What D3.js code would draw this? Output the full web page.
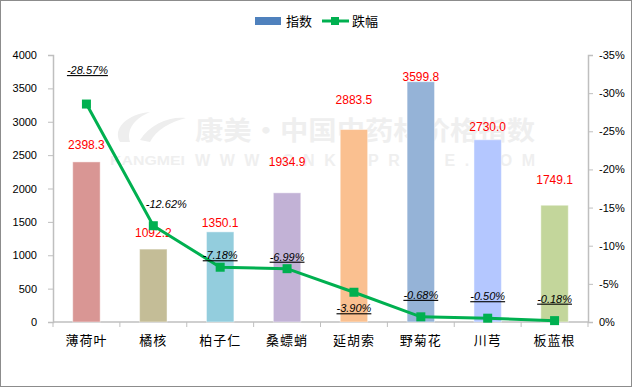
<!DOCTYPE html>
<html>
<head>
<meta charset="utf-8">
<script src="https://cdn.jsdelivr.net/npm/d3@7"></script>
<style>
  body { margin: 0; background: #fff; }
  svg { display: block; }
  text { font-family: "Liberation Sans", Arial, sans-serif; }
  .cjk { font-family: "Noto Sans CJK SC", sans-serif; }
</style>
</head>
<body>
<div id="chart"></div>
<script>
"use strict";

const categories = ["薄荷叶", "橘核", "柏子仁", "桑螵蛸", "延胡索", "野菊花", "川芎", "板蓝根"];
const indexValues = [2398.3, 1092.2, 1350.1, 1934.9, 2883.5, 3599.8, 2730.0, 1749.1];
const changeValues = [-0.2857, -0.1262, -0.0718, -0.0699, -0.0390, -0.0068, -0.0050, -0.0018];
const leftTicks = [0, 500, 1000, 1500, 2000, 2500, 3000, 3500, 4000];
const rightTicks = [0, -0.05, -0.10, -0.15, -0.20, -0.25, -0.30, -0.35];

// hand placed label nudges (like the excel original)
const valueLabelLift = [17, 16, 9, 31, 30, 5, 13, 25];
const pctLabelPos = [[1, 34], [13, 22], [0, 12], [0, 12], [0, -16], [0, 22], [0, 22], [0, 22]];
const pctUnderline = [true, false, true, true, true, true, true, true];
const barColors = ["#D99694", "#C4BD97", "#93CDDD", "#C2B2D6", "#FAC090", "#95B3D7", "#B4C7FF", "#C3D69B"];

const W = 633, H = 388;
const plotL = 53, plotR = 588, plotT = 55, plotB = 322;

const svg = d3.select("#chart").append("svg")
    .attr("width", W)
    .attr("height", H);

svg.append("rect")
    .attr("x", 0.5).attr("y", 0.5)
    .attr("width", W - 2).attr("height", H - 2)
    .attr("fill", "#fff")
    .attr("stroke", "#8c8c8c");

// watermark
const wm = svg.append("g").attr("fill", "#efefef").attr("font-weight", "bold");
wm.append("path")
    .attr("d", "M120,142 C112,128 128,114 150,112 C136,118 126,128 130,142 Z M140,140 C150,124 170,116 186,118 C170,122 156,130 150,142 Z")
    .attr("fill", "#eeeeee");
wm.append("text").attr("class", "cjk")
    .attr("x", 195).attr("y", 140)
    .attr("font-size", 26)
    .attr("textLength", 340).attr("lengthAdjust", "spacingAndGlyphs")
    .text("康美·中国中药材价格指数");
wm.append("text")
    .attr("x", 110).attr("y", 165)
    .attr("font-size", 13)
    .attr("textLength", 75).attr("lengthAdjust", "spacingAndGlyphs")
    .text("KANGMEI");
wm.append("text")
    .attr("x", 195).attr("y", 166)
    .attr("font-size", 16)
    .attr("textLength", 340).attr("lengthAdjust", "spacing")
    .text("WWW.CNKMPRICE.COM");

const x = d3.scaleBand().domain(categories).range([plotL, plotR]);
const yL = d3.scaleLinear().domain([0, 4000]).range([plotB, plotT]);
const yR = d3.scaleLinear().domain([0, -0.35]).range([plotB, plotT]);

const axisColor = "#bfbfbf";

// left axis
const gL = svg.append("g")
    .attr("transform", "translate(" + plotL + ",0)")
    .call(d3.axisLeft(yL).tickValues(leftTicks).tickSize(5).tickPadding(11).tickFormat(d3.format("d")));
gL.select(".domain").attr("stroke", axisColor).attr("stroke-width", 1.5);
gL.selectAll(".tick line").attr("stroke", axisColor);
gL.selectAll("text").attr("font-size", 11).attr("fill", "#000")
    .attr("font-family", "Liberation Sans, Arial, sans-serif");

// right axis
const gR = svg.append("g")
    .attr("transform", "translate(" + plotR + ",0)")
    .call(d3.axisRight(yR).tickValues(rightTicks).tickSize(5).tickPadding(6)
        .tickFormat(d => d === 0 ? "0%" : "-" + Math.round(-d * 100) + "%"));
gR.select(".domain").attr("stroke", axisColor).attr("stroke-width", 1.5);
gR.selectAll(".tick line").attr("stroke", axisColor);
gR.selectAll("text").attr("font-size", 11).attr("fill", "#000")
    .attr("font-family", "Liberation Sans, Arial, sans-serif");

// x axis
svg.append("line")
    .attr("x1", plotL).attr("x2", plotR)
    .attr("y1", plotB).attr("y2", plotB)
    .attr("stroke", axisColor).attr("stroke-width", 1.5);
svg.selectAll(".xtick")
    .data(d3.range(categories.length + 1))
    .enter().append("line")
    .attr("x1", i => plotL + i * x.step())
    .attr("x2", i => plotL + i * x.step())
    .attr("y1", plotB).attr("y2", plotB + 5)
    .attr("stroke", axisColor);
svg.selectAll(".xlab")
    .data(categories)
    .enter().append("text")
    .attr("class", "cjk")
    .attr("x", d => x(d) + x.bandwidth() / 2)
    .attr("y", 345)
    .attr("text-anchor", "middle")
    .attr("font-size", 13)
    .attr("letter-spacing", 1)
    .attr("fill", "#000")
    .text(d => d);

// bars
const bw = x.bandwidth() * 0.41;
svg.selectAll(".bar")
    .data(indexValues)
    .enter().append("rect")
    .attr("x", (d, i) => x(categories[i]) + x.bandwidth() / 2 - bw / 2)
    .attr("y", d => yL(d))
    .attr("width", bw)
    .attr("height", d => plotB - yL(d))
    .attr("fill", (d, i) => barColors[i])
    .attr("stroke", "rgba(255,255,255,0.45)")
    .attr("stroke-width", 1);

// value labels
svg.selectAll(".vlab")
    .data(indexValues)
    .enter().append("text")
    .attr("x", (d, i) => x(categories[i]) + x.bandwidth() / 2)
    .attr("y", (d, i) => yL(d) - valueLabelLift[i] + 4)
    .attr("text-anchor", "middle")
    .attr("font-size", 12)
    .attr("fill", "#ff0000")
    .text(d => d.toFixed(1));

// line
const cx = (d, i) => x(categories[i]) + x.bandwidth() / 2;
const line = d3.line().x(cx).y(d => yR(d));
svg.append("path")
    .datum(changeValues)
    .attr("d", line)
    .attr("fill", "none")
    .attr("stroke", "#00B050")
    .attr("stroke-width", 3);
svg.selectAll(".mk")
    .data(changeValues)
    .enter().append("rect")
    .attr("x", (d, i) => cx(d, i) - 4.5)
    .attr("y", d => yR(d) - 4.5)
    .attr("width", 9).attr("height", 9)
    .attr("fill", "#00B050");

// pct labels
svg.selectAll(".plab")
    .data(changeValues)
    .enter().append("text")
    .attr("x", (d, i) => cx(d, i) + pctLabelPos[i][0])
    .attr("y", (d, i) => yR(d) - pctLabelPos[i][1] + 4)
    .attr("text-anchor", "middle")
    .attr("font-size", 11)
    .attr("font-style", "italic")
    .attr("text-decoration", (d, i) => pctUnderline[i] ? "underline" : "none")
    .attr("fill", "#000")
    .text(d => (d * 100).toFixed(2) + "%");

// legend
const lg = svg.append("g").attr("class", "legend");
lg.append("rect")
    .attr("x", 255).attr("y", 17)
    .attr("width", 26).attr("height", 8)
    .attr("fill", "#4F81BD");
lg.append("text").attr("class", "cjk")
    .attr("x", 286).attr("y", 26)
    .attr("font-size", 13).attr("fill", "#000")
    .text("指数");
lg.append("line")
    .attr("x1", 322).attr("x2", 349)
    .attr("y1", 21).attr("y2", 21)
    .attr("stroke", "#00B050").attr("stroke-width", 3);
lg.append("rect")
    .attr("x", 331).attr("y", 17)
    .attr("width", 8).attr("height", 8)
    .attr("fill", "#00B050");
lg.append("text").attr("class", "cjk")
    .attr("x", 352).attr("y", 26)
    .attr("font-size", 13).attr("fill", "#000")
    .text("跌幅");
</script>
</body>
</html>
